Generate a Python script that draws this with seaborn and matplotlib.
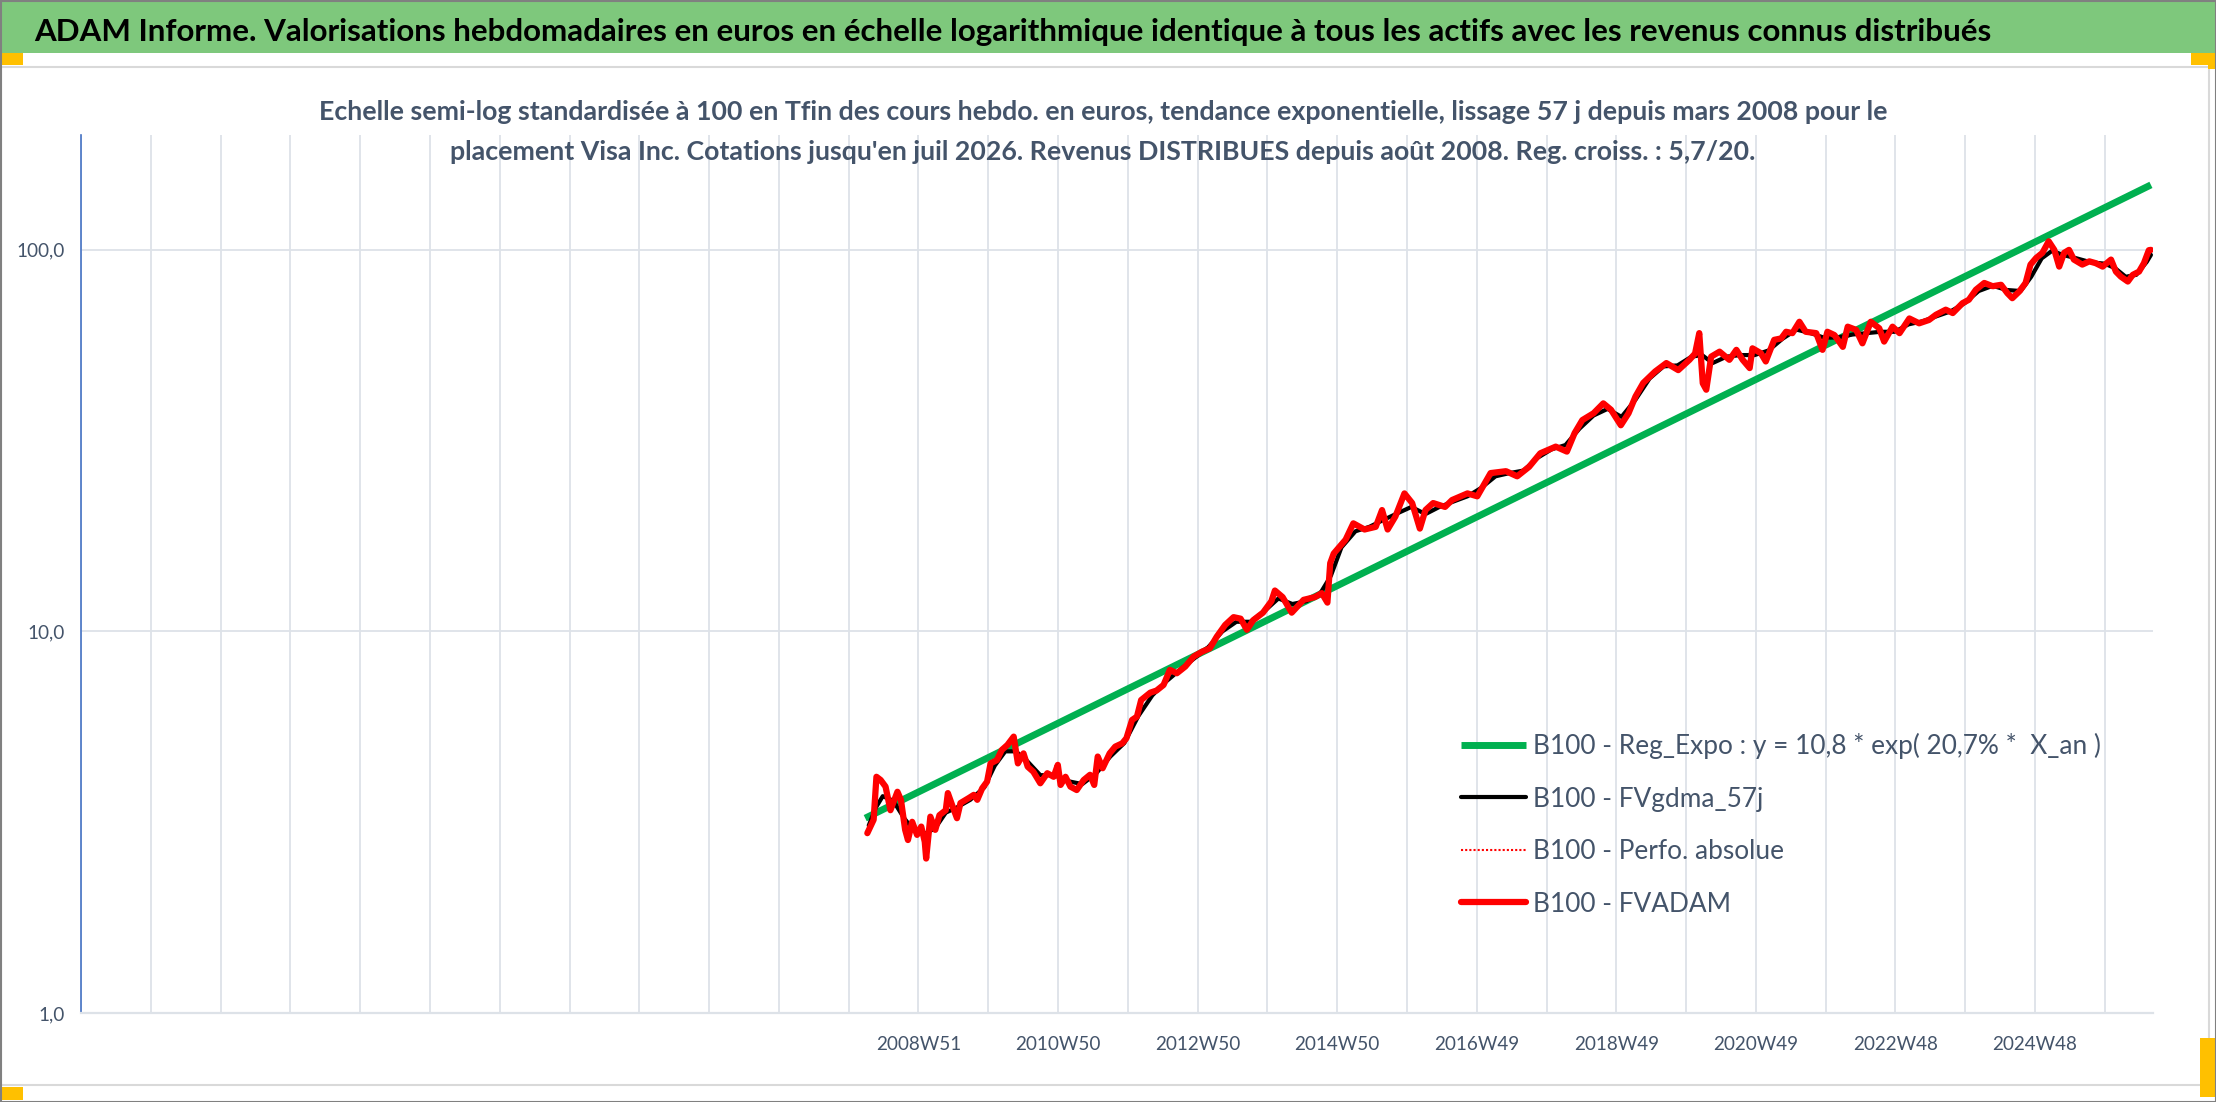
import numpy as np
import pandas as pd
import matplotlib
matplotlib.use("Agg")
import matplotlib.pyplot as plt
from matplotlib.patches import Rectangle
from matplotlib.ticker import NullLocator
import seaborn as sns

# ---------------- data ----------------
fvadam_year = [
    2008.23, 2008.32, 2008.36, 2008.42, 2008.49, 2008.56, 2008.66, 2008.71, 2008.77, 2008.81,
    2008.87, 2008.94, 2009.00, 2009.05, 2009.07, 2009.13, 2009.20, 2009.26, 2009.35, 2009.38,
    2009.44, 2009.51, 2009.56, 2009.68, 2009.75, 2009.80, 2009.87, 2009.94, 2009.99, 2010.08,
    2010.15, 2010.23, 2010.32, 2010.38, 2010.46, 2010.52, 2010.60, 2010.70, 2010.80, 2010.89,
    2010.95, 2010.99, 2011.06, 2011.13, 2011.22, 2011.32, 2011.41, 2011.47, 2011.52, 2011.59,
    2011.69, 2011.77, 2011.87, 2011.93, 2012.01, 2012.08, 2012.14, 2012.27, 2012.36, 2012.46,
    2012.55, 2012.65, 2012.77, 2012.89, 2013.01, 2013.12, 2013.22, 2013.34, 2013.46, 2013.56,
    2013.65, 2013.74, 2013.88, 2014.00,
    2014.05, 2014.16, 2014.29, 2014.46, 2014.62, 2014.72, 2014.80, 2014.84, 2014.89, 2015.06,
    2015.17, 2015.33, 2015.49, 2015.58, 2015.66, 2015.77, 2015.90, 2016.01, 2016.12, 2016.20,
    2016.31, 2016.48, 2016.58, 2016.80, 2016.94, 2017.13, 2017.35, 2017.51, 2017.68, 2017.84,
    2018.06, 2018.22, 2018.33, 2018.44, 2018.60, 2018.74, 2018.85, 2018.99, 2019.10, 2019.20,
    2019.31, 2019.48, 2019.64, 2019.81, 2019.97, 2020.05, 2020.11,
    2020.16, 2020.21, 2020.28, 2020.40, 2020.54, 2020.64, 2020.73, 2020.83, 2020.87, 2020.99,
    2021.06, 2021.18, 2021.28, 2021.35, 2021.44, 2021.54, 2021.63, 2021.78, 2021.87, 2021.94,
    2022.04, 2022.16, 2022.23, 2022.35, 2022.44, 2022.56, 2022.68, 2022.75, 2022.87, 2022.97,
    2023.11, 2023.25, 2023.39, 2023.49, 2023.63, 2023.73, 2023.87, 2023.96, 2024.06, 2024.18,
    2024.30, 2024.42, 2024.51, 2024.58, 2024.68, 2024.77, 2024.84, 2024.92, 2025.01, 2025.10,
    2025.18, 2025.25, 2025.32, 2025.39, 2025.46, 2025.58, 2025.68, 2025.77, 2025.87, 2025.99,
    2026.06, 2026.13, 2026.23, 2026.30, 2026.39, 2026.46, 2026.53, 2026.56,
]
fvadam_value = [
    2.96, 3.21, 4.16, 4.08, 3.92, 3.40, 3.80, 3.62, 3.02, 2.84,
    3.17, 2.93, 3.08, 2.81, 2.54, 3.27, 3.02, 3.30, 3.40, 3.77,
    3.51, 3.24, 3.55, 3.66, 3.73, 3.62, 3.88, 4.04, 4.51, 4.60,
    4.89, 5.04, 5.30, 4.51, 4.79, 4.42, 4.29, 4.00, 4.25, 4.16,
    4.47, 3.96, 4.16, 3.92, 3.84, 4.08, 4.21, 3.96, 4.70, 4.38,
    4.79, 4.99, 5.09, 5.25, 5.86, 5.98, 6.61, 6.91, 7.00, 7.24,
    7.93, 7.77, 8.09, 8.59, 8.85, 9.03, 9.69, 10.4, 10.9, 10.8,
    10.1, 10.7, 11.2, 12.0,
    12.8, 12.3, 11.2, 12.1, 12.3, 12.6, 11.9, 15.1, 16.0, 17.4,
    19.2, 18.5, 18.8, 20.8, 18.5, 20.0, 23.0, 21.7, 18.6, 20.8,
    21.7, 21.2, 22.1, 23.0, 22.6, 26.0, 26.3, 25.5, 27.0, 29.3,
    30.5, 29.6, 33.1, 35.8, 37.3, 39.6, 38.1, 34.7, 37.3, 41.3,
    44.8, 48.0, 50.5, 48.4, 51.5, 53.5, 60.5,
    44.7, 43.0, 52.5, 54.1, 51.5, 54.7, 51.5, 49.0, 55.2, 53.6,
    51.0, 58.1, 58.6, 61.0, 60.5, 64.8, 61.0, 60.5, 54.7, 61.0,
    59.8, 55.7, 62.9, 61.7, 56.9, 64.8, 62.3, 57.5, 62.9, 60.5,
    66.1, 64.2, 65.5, 67.6, 69.7, 68.3, 72.5, 74.0, 78.6, 81.9,
    80.3, 81.0, 77.0, 74.7, 77.8, 81.9, 91.5, 95.2, 98.2, 105.3,
    100.0, 90.4, 98.2, 100.0, 94.3, 91.5, 93.3, 92.3, 90.4, 94.3,
    87.7, 85.1, 82.6, 86.0, 87.7, 92.3, 99.8, 100.0,
]
gdma_year = [
    2008.25, 2008.35, 2008.45, 2008.60, 2008.75, 2008.90, 2009.05, 2009.20, 2009.35, 2009.50,
    2009.70, 2009.90, 2010.05, 2010.20, 2010.35, 2010.50, 2010.70, 2010.90, 2011.10, 2011.30,
    2011.50, 2011.70, 2011.90, 2012.10, 2012.30, 2012.50, 2012.70, 2012.90, 2013.10, 2013.30,
    2013.50, 2013.70, 2013.90, 2014.10, 2014.30, 2014.50, 2014.70, 2014.85, 2015.00, 2015.20,
    2015.40, 2015.60, 2015.80, 2016.00, 2016.20, 2016.40, 2016.60, 2016.80, 2017.00, 2017.20,
    2017.40, 2017.60, 2017.80, 2018.00, 2018.20, 2018.40, 2018.60, 2018.80, 2019.00, 2019.20,
    2019.40, 2019.60, 2019.80, 2020.00, 2020.15, 2020.30, 2020.50, 2020.70, 2020.90, 2021.10,
    2021.30, 2021.50, 2021.70, 2021.90, 2022.10, 2022.30, 2022.50, 2022.70, 2022.90, 2023.10,
    2023.30, 2023.50, 2023.70, 2023.90, 2024.10, 2024.30, 2024.50, 2024.70, 2024.85, 2025.00,
    2025.15, 2025.30, 2025.50, 2025.70, 2025.90, 2026.05, 2026.20, 2026.35, 2026.50, 2026.56,
]
gdma_value = [
    3.10, 3.45, 3.70, 3.60, 3.25, 3.00, 2.95, 3.05, 3.35, 3.45,
    3.62, 3.90, 4.45, 4.85, 4.85, 4.60, 4.20, 4.20, 4.05, 3.98,
    4.25, 4.70, 5.10, 6.00, 6.80, 7.40, 7.95, 8.50, 9.10, 10.0,
    10.6, 10.6, 11.3, 12.2, 11.8, 12.0, 12.6, 14.0, 16.6, 18.3,
    18.8, 19.6, 20.4, 21.2, 20.3, 21.2, 21.9, 22.6, 23.8, 25.5,
    26.0, 26.4, 28.5, 30.0, 30.8, 34.0, 36.8, 38.3, 36.5, 40.5,
    46.0, 49.5, 49.8, 52.5, 53.0, 50.5, 52.5, 53.0, 53.0, 54.5,
    58.5, 61.8, 60.5, 58.8, 59.0, 60.0, 60.5, 61.0, 61.0, 63.8,
    65.0, 67.0, 69.0, 72.5, 78.0, 80.5, 78.5, 78.0, 85.0, 95.0,
    99.5, 97.0, 95.0, 92.8, 92.0, 89.5, 85.0, 86.0, 93.0, 97.0,
]
reg_year = [2008.20, 2026.56]
reg_value = [3.24, 148.0]

series_labels = [
    "B100 - Reg_Expo : y = 10,8 * exp( 20,7% *  X_an )",
    "B100 - FVgdma_57j",
    "B100 - Perfo. absolue",
    "B100 - FVADAM",
]
xtick_labels = ["2008W51", "2010W50", "2012W50", "2014W50", "2016W49",
                "2018W49", "2020W49", "2022W48", "2024W48"]
first_label_year = 2008.96
ytick_values = [1, 10, 100]
ytick_labels = ["1,0", "10,0", "100,0"]

title = ("ADAM Informe. Valorisations hebdomadaires en euros en échelle logarithmique "
         "identique à tous les actifs avec les revenus connus distribués")
subtitle_lines = [
    "Echelle semi-log standardisée à 100 en Tfin des cours hebdo. en euros, tendance "
    "exponentielle, lissage 57 j depuis mars 2008 pour le",
    "placement Visa Inc. Cotations jusqu'en juil 2026. Revenus DISTRIBUES depuis août 2008. "
    "Reg. croiss. : 5,7/20.",
]

assert len(fvadam_year) == len(fvadam_value)
assert len(gdma_year) == len(gdma_value)

# ---------------- style ----------------
W, H = 2216, 1102
sns.set_theme(style="white")
plt.rcParams['font.family'] = ['Lato', 'DejaVu Sans']

GRID = '#DDE2E8'
TXT = '#44546A'
fig = plt.figure(figsize=(W / 100, H / 100), dpi=100)
fig.patch.set_facecolor('white')
renderer = fig.canvas.get_renderer()


def px_rect(x0, y0, x1, y1, **kw):
    fig.patches.append(Rectangle((x0 / W, 1 - y1 / H), (x1 - x0) / W, (y1 - y0) / H,
                                 transform=fig.transFigure, **kw))


def fit_size(s, target_px, **kw):
    t = fig.text(0, 0, s, fontsize=20, **kw)
    w = t.get_window_extent(renderer=renderer).width
    t.remove()
    return 20 * target_px / w


# decorations: banner, frame, handles
px_rect(0, 2, W, 53, facecolor='#7ec87c', edgecolor='none', zorder=0)
px_rect(1, 67, 2209, 1085, facecolor='none', edgecolor='#D9D9D9', lw=1.5, zorder=0)
for (a, b, c, d) in [(0, 53, 23, 65), (2191, 53, 2216, 65), (2208, 53, 2216, 69),
                     (2200, 1038, 2216, 1097), (0, 1087, 23, 1100)]:
    px_rect(a, b, c, d, facecolor='#FFC000', edgecolor='none', zorder=1)
px_rect(0.5, 0.5, W - 0.5, H - 0.5, facecolor='none', edgecolor='#808080', lw=1.5, zorder=5)

# title & subtitle
fs_title = fit_size(title, 1954, fontweight='bold')
fig.text(34 / W, 1 - 41 / H, title, fontsize=fs_title, fontweight='bold',
         color='black', ha='left', va='baseline')
fs_sub = fit_size(subtitle_lines[0], 1574, fontweight='bold')
for yb, line in zip([120, 160], subtitle_lines):
    fig.text(1103 / W, 1 - yb / H, line, fontsize=fs_sub, fontweight='bold',
             color=TXT, ha='center', va='baseline', zorder=6)

# ---------------- axes ----------------
L, R, T, B = 81, 2153, 135, 1013
ax = fig.add_axes([L / W, 1 - B / H, (R - L) / W, (B - T) / H])
ax.set_facecolor('none')

wk = 52 * 7 / 365.25
x0 = first_label_year - 12 * wk
x1 = first_label_year + 17.69 * wk

sns.lineplot(x=reg_year, y=reg_value, ax=ax, color='#00B050', lw=5,
             label=series_labels[0], solid_capstyle='butt', zorder=2)
sns.lineplot(x=gdma_year, y=gdma_value, ax=ax, color='black', lw=3,
             label=series_labels[1], zorder=3)
sns.lineplot(x=fvadam_year, y=fvadam_value, ax=ax, color='#FF0000', lw=1.5,
             label=series_labels[2], zorder=4)
sns.lineplot(x=fvadam_year, y=fvadam_value, ax=ax, color='#FF0000', lw=4.5,
             label=series_labels[3], zorder=5, solid_joinstyle='round',
             solid_capstyle='round')
ax.lines[2].set_linestyle((0, (1, 1)))

ax.set_yscale('log')
ax.set_ylim(1, 200)
ax.set_xlim(x0, x1)
ax.set_yticks(ytick_values)
ax.set_yticklabels(ytick_labels)
ax.yaxis.set_minor_locator(NullLocator())

tick_pos = [first_label_year + k * wk for k in range(-12, 18)]
tick_lab = []
for k in range(-12, 18):
    if k >= 0 and k % 2 == 0 and k // 2 < len(xtick_labels):
        tick_lab.append(xtick_labels[k // 2])
    else:
        tick_lab.append('')
ax.set_xticks(tick_pos)
ax.set_xticklabels(tick_lab)
ax.xaxis.set_minor_locator(NullLocator())
ax.set_xlabel('')
ax.set_ylabel('')

ax.grid(True, which='major', axis='both', color=GRID, lw=1.3, zorder=0)
ax.set_axisbelow(True)
for s in ['top', 'right']:
    ax.spines[s].set_visible(False)
ax.spines['left'].set_color('#4472C4')
ax.spines['left'].set_linewidth(1.2)
ax.spines['bottom'].set_color(GRID)
ax.spines['bottom'].set_linewidth(1.6)

fs_tick = fit_size("2008W51", 85)
ax.tick_params(axis='x', length=6.5, width=1.3, color=GRID, direction='out',
               pad=10, labelsize=fs_tick, labelcolor=TXT)
ax.tick_params(axis='y', length=0, pad=12, labelsize=fs_tick, labelcolor=TXT)

# legend
fs_leg = fit_size(series_labels[0], 567)
fs_leg_px = fs_leg * 100 / 72
leg = ax.legend(loc='upper left',
                bbox_to_anchor=((1461 - L) / (R - L), (B - 733) / (B - T)),
                frameon=False, fontsize=fs_leg, borderpad=0, borderaxespad=0,
                handlelength=65 / fs_leg_px, handletextpad=7 / fs_leg_px,
                labelspacing=1.05)
for t in leg.get_texts():
    t.set_color(TXT)

fig.savefig('out.png', dpi=100)
